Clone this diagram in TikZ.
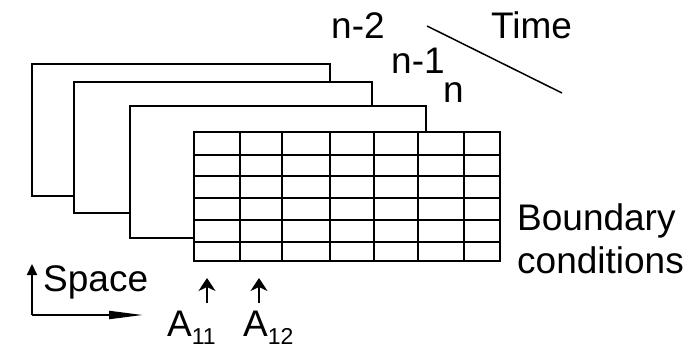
\documentclass[tikz,border=0pt]{standalone}
\usepackage{fontspec}
\setmainfont{Liberation Sans}
\usetikzlibrary{arrows.meta}
\tikzset{
  lbl/.style={inner sep=0pt, anchor=base west, font=\fontsize{37}{40}\selectfont},
  frame/.style={draw=black, fill=white, line width=2pt},
  gridline/.style={draw=black, line width=2pt},
  arr/.style={line width=2pt},
}
\newcommand{\subs}[1]{\raisebox{-8pt}{\fontsize{23}{23}\selectfont #1}}
\begin{document}
\begin{tikzpicture}[x=1pt,y=-1pt]
\useasboundingbox (0,0) rectangle (696,348);
% frames back to front
\draw[frame] (32,64) rectangle (330,195.5);
\draw[frame] (74,82) rectangle (372,213);
\draw[frame] (130,106) rectangle (426,238);
\draw[frame] (194,132) rectangle (500,261);
% grid
\foreach \x in {240,282,330,374,418,464} \draw[gridline] (\x,132) -- (\x,261);
\foreach \y in {155,176,198,220,242} \draw[gridline] (194,\y) -- (500,\y);
% labels
\node[lbl] (nm2) at (331,38) {n-2};
\node[lbl] (nm1) at (391,73) {n-1};
\node[lbl] (n) at (443,102) {n};
\node[lbl] (time) at (491,38) {Time};
\coordinate (t1) at (427,26);
\coordinate (t2) at (562,93);
\draw[arr, line width=1.5pt] (t1) -- (t2);
\node[lbl] (bc1) at (517,230) {Boundary};
\node[lbl] (bc2) at (517,273) {conditions};
\node[lbl] (space) at (43,291) {Space};
\coordinate (corner) at (32,315);
\coordinate (up) at (32,264);
\coordinate (right) at (143,315);
\draw[arr, -{Triangle[length=11pt,width=10pt]}] (corner) -- (up);
\draw[arr, -{Triangle[length=34pt,width=8pt]}] (corner) -- (right);
\node[lbl] (a11) at (167,336) {A\subs{11}};
\node[lbl] (a12) at (243,336) {A\subs{12}};
\coordinate (a11b) at (207,303);
\coordinate (a11t) at (207,278);
\coordinate (a12b) at (259,303);
\coordinate (a12t) at (259,278);
\draw[arr, -{Stealth[length=13pt,width=17pt,inset=4pt]}] (a11b) -- (a11t);
\draw[arr, -{Stealth[length=13pt,width=17pt,inset=4pt]}] (a12b) -- (a12t);
\end{tikzpicture}
\end{document}
